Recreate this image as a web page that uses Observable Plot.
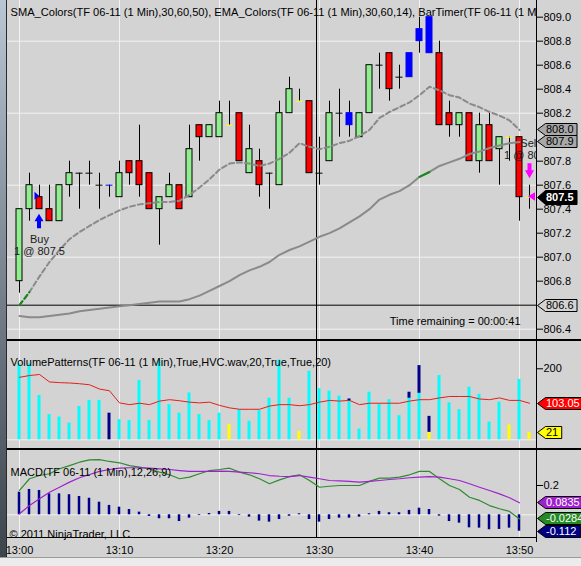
<!DOCTYPE html>
<html>
<head>
<meta charset="utf-8">
<script src="https://cdn.jsdelivr.net/npm/d3@7"></script>
<script src="https://cdn.jsdelivr.net/npm/@observablehq/plot@0.6"></script>
<style>
html, body { margin: 0; padding: 0; background: #d3d3d3; }
#chart { position: relative; width: 581px; height: 566px; overflow: hidden; background: #d3d3d3; }
.panel { position: absolute; left: 0; }
.deco { position: absolute; }
</style>
</head>
<body>
<div id="chart"></div>
<script>
// ---------- DATA ----------
// bars: minutes after 13:00
const open  = [806.8,807.4,807.5,807.4,807.3,807.6,807.7,807.7,807.6,807.6,807.5,807.8,807.8,807.7,807.4,807.5,807.6,807.5,808.1,808.0,808.0,808.1,808.2,807.7,807.8,807.7,807.6,808.2,808.3,808.3,807.7,807.8,808.2,808.2,808.0,808.2,808.6,808.7,808.5,808.5,808.8,809.0,808.7,808.2,808.1,808.2,807.8,808.1,807.9,808.0,808.0,807.5];
const high  = [807.4,807.7,807.6,807.6,807.6,807.8,807.7,807.8,807.7,807.6,807.8,807.8,808.1,807.7,807.5,807.7,807.6,808.1,808.1,808.1,808.3,808.3,808.2,808.1,807.9,807.7,808.3,808.5,808.4,808.3,808.0,808.3,808.4,808.3,808.2,808.6,808.7,808.7,808.6,808.7,809.0,809.0,808.8,808.3,808.2,808.2,808.2,808.2,808.0,808.0,808.0,807.6];
const low   = [806.7,807.3,807.4,807.3,807.3,807.5,807.4,807.6,807.4,807.5,807.5,807.6,807.5,807.4,807.1,807.5,807.4,807.5,807.8,808.0,808.0,808.1,807.8,807.7,807.5,807.4,807.6,808.2,808.3,807.7,807.6,807.8,808.0,808.0,808.0,808.2,808.4,808.3,808.4,808.5,808.7,808.7,808.1,808.0,808.0,807.8,807.7,807.8,807.6,807.8,807.3,807.4];
const close = [807.4,807.6,807.4,807.3,807.6,807.7,807.7,807.7,807.6,807.6,807.7,807.7,807.6,807.4,807.5,807.6,807.4,807.9,808.0,808.1,808.2,808.1,807.8,807.9,807.6,807.7,808.2,808.4,808.3,807.7,807.7,808.2,808.2,808.1,808.2,808.6,808.6,808.4,808.5,808.7,808.9,808.7,808.1,808.1,808.2,807.8,808.1,807.8,808.0,808.0,807.5,807.5];
const barPaint = ["","","","","","","","","","blue",
                  "","","","","","","","","","",
                  "","yellow","","","","","","","yellow","",
                  "","","","blue","","","","","","blue",
                  "blue","blue","","","","","","","","yellow",
                  "","yellow"];
const emaValues = [806.60,806.71,806.84,806.96,807.06,807.15,807.21,807.26,807.31,807.35,
                   807.39,807.42,807.44,807.45,807.46,807.46,807.47,807.52,807.58,807.65,
                   807.73,807.78,807.79,807.78,807.76,807.78,807.82,807.87,807.95,807.92,
                   807.90,807.92,807.95,807.97,808.01,808.06,808.16,808.21,808.25,808.29,
                   808.35,808.42,808.39,808.35,808.33,808.28,808.25,808.21,808.18,808.14,808.06];
const smaValues = [806.51,806.50,806.50,806.51,806.52,806.53,806.55,806.56,806.57,806.58,
                   806.59,806.60,806.61,806.62,806.63,806.63,806.63,806.65,806.68,806.72,
                   806.76,806.80,806.85,806.89,806.92,806.96,807.02,807.06,807.09,807.13,
                   807.17,807.20,807.24,807.29,807.34,807.40,807.48,807.52,807.55,807.60,
                   807.67,807.71,807.76,807.79,807.82,807.86,807.88,807.91,807.93,807.95,807.96];
const volume   = [214,214,125,71,64,47,94,111,111,75,57,54,167,54,223,99,75,132,71,54,75,43,85,52,82,117,225,117,24,193,144,137,123,109,30,134,101,113,68,117,131,21,181,104,85,148,128,50,106,42,170,21];
const volumeCap = {33: 115, 39: 134, 40: 209, 41: 66};
const volumeKind = {9: "navy", 21: "yellow", 28: "yellow", 41: "yellow", 49: "yellow", 51: "yellow"};
const volumeAvg = [176,181,184,163,161,160,158,155,143,138,104,99,103,99,109,113,110,106,104,106,
                   97,90,86,86,86,95,99,99,96,99,106,111,109,111,99,103,103,103,103,109,
                   113,113,118,122,122,122,115,113,118,111,111,103];
const macdValues   = [0.166,0.246,0.268,0.28,0.314,0.336,0.359,0.375,0.377,0.364,0.355,0.336,0.325,0.314,0.291,0.273,0.246,0.257,0.28,0.302,0.309,0.318,0.291,0.273,0.246,0.212,0.238,0.26,0.273,0.234,0.188,0.195,0.2,0.2,0.2,0.228,0.25,0.25,0.257,0.273,0.296,0.296,0.246,0.2,0.173,0.12,0.098,0.063,0.041,0.023,-0.028];
const signalValues = [0.007,0.063,0.109,0.154,0.188,0.223,0.253,0.275,0.296,0.309,0.318,0.321,0.321,0.318,0.314,0.309,0.302,0.296,0.296,0.297,0.298,0.296,0.291,0.287,0.28,0.268,0.263,0.261,0.268,0.257,0.246,0.234,0.232,0.228,0.223,0.228,0.234,0.241,0.246,0.253,0.257,0.261,0.257,0.246,0.234,0.212,0.188,0.166,0.143,0.116,0.082];
const histValues   = [0.154,0.173,0.166,0.143,0.143,0.137,0.125,0.113,0.086,0.064,0.052,0.036,0.018,-0.011,-0.027,-0.027,-0.046,-0.023,-0.005,0.009,0.023,0.023,-0.005,-0.016,-0.043,-0.05,-0.032,-0.01,0.007,-0.032,-0.05,-0.032,-0.023,-0.023,-0.016,0.007,0.023,0.014,0.014,0.03,0.045,0.036,-0.009,-0.046,-0.057,-0.089,-0.091,-0.102,-0.1,-0.091,-0.112];

const timeTicks  = [0, 10, 20, 30, 40, 50];
const timeLabels = ["13:00", "13:10", "13:20", "13:30", "13:40", "13:50"];
const priceTicks = [809.0, 808.8, 808.6, 808.4, 808.2, 807.8, 807.6, 807.4, 807.2, 807.0, 806.8, 806.4];
const priceGrid  = [808.8, 808.2, 807.6, 807.0, 806.4];
const volumeTicks = [200];
const macdTicks   = [0.2];
const hLinePrice = 806.6;
const cursorTime = 29.7;
const buyExec  = {i: 2,  price: 807.5, label: "Buy",  qty: "1 @ 807.5"};
const sellExec = {i: 51, price: 807.5, label: "Sell", qty: "1 @ 807.5"};
const priceFlagValues = [808.06, 807.96, 807.5, 806.6];
const priceFlagLabels = ["808.0", "807.9", "807.5", "806.6"];
const volumeFlagValues = [103.05, 21];
const volumeFlagLabels = ["103.05", "21"];
const macdFlagValues = [0.0835, -0.0284, -0.112];
const macdFlagLabels = ["0.0835", "-0.0284", "-0.112"];
const headerText = "SMA_Colors(TF 06-11 (1 Min),30,60,50), EMA_Colors(TF 06-11 (1 Min),30,60,14), BarTimer(TF 06-11 (1 Min))";
const timerText = "Time remaining = 00:00:41";
const volumeTitle = "VolumePatterns(TF 06-11 (1 Min),True,HVC.wav,20,True,True,20)";
const macdTitle = "MACD(TF 06-11 (1 Min),12,26,9)";
const copyrightText = "\u00A9 2011 NinjaTrader, LLC";

// ---------- STYLE ----------
const FONT = "'Liberation Sans', Arial, sans-serif";
const BG = "#d3d3d3", GRID = "#f2f2f2", GRAY = "#8a8a8a", GREEN = "#138a13";
const UP = "#90ee90", DOWN = "#ff0000", BLUE = "#0000ff", YELLOW = "#ffff00", NAVY = "#00008b";
const CYAN = "#00ffff", MAGENTA = "#ff00ff", PURPLE = "#a020d0", MGREEN = "#2e8b2e";
const W = 581, xDomain = [-1.2, 51.7];

const candles = open.map((o, i) => ({i, open: o, high: high[i], low: low[i], close: close[i], paint: barPaint[i]}));
const bodies = candles.filter(d => d.open !== d.close);
const dojis = candles.filter(d => d.open === d.close);
const emaPts = emaValues.map((v, i) => ({i, v}));
const smaPts = smaValues.map((v, i) => ({i, v}));
const volData = volume.map((v, i) => ({i, v, cap: volumeCap[i], kind: volumeKind[i] || "cyan"}));
const volAvgPts = volumeAvg.map((v, i) => ({i, v}));
const macdPts = macdValues.map((v, i) => ({i, v}));
const signalPts = signalValues.map((v, i) => ({i, v}));
const histPts = histValues.map((v, i) => ({i, v}));

function textW(s, size) {
  let w = 0;
  for (const c of s) w += c === "." ? 0.278 : c === "-" ? 0.333 : 0.556;
  return w * size;
}

function flagMark(values, labels, fills, inks, bold) {
  return (index, scales, channels, dims) => {
    const x0 = dims.width - dims.marginRight;
    const g = d3.create("svg:g").attr("font-family", FONT).attr("font-size", 11).attr("text-anchor", "start");
    values.forEach((v, k) => {
      const y = Math.round(scales.y(v)) + 0.5;
      const h = bold && bold[k] ? 14 : 12;
      const w = textW(labels[k], 11) + 4;
      const tip = x0 + 1.5, b = x0 + 9.5;
      g.append("path")
        .attr("d", `M${tip},${y}L${b},${y - h / 2}H${b + w}V${y + h / 2}H${b}Z`)
        .attr("fill", fills[k]).attr("stroke", "#000").attr("stroke-width", 1);
      g.append("text").attr("x", b + 0.5).attr("y", y).attr("dy", "0.36em")
        .attr("text-anchor", "start")
        .attr("fill", inks[k]).attr("font-weight", bold && bold[k] ? "bold" : null)
        .text(labels[k]);
    });
    return g.node();
  };
}

function execMarks(buy, sell) {
  return (index, scales) => {
    const g = d3.create("svg:g");
    const bx = scales.x(buy.i), by = scales.y(buy.price);
    g.append("path").attr("fill", BLUE)
      .attr("d", `M${bx},${by + 17}L${bx + 4.5},${by + 24.5}H${bx + 2}V${by + 31.5}H${bx - 2}V${by + 24.5}H${bx - 4.5}Z`);
    g.append("path").attr("fill", BLUE)
      .attr("d", `M${bx - 4.5},${by - 5}L${bx},${by - 1}L${bx - 4.5},${by + 3}Z`);
    const sx = scales.x(sell.i) + 0.5, sy = scales.y(sell.price);
    g.append("path").attr("fill", MAGENTA)
      .attr("d", `M${sx},${sy - 18.5}L${sx + 4.5},${sy - 26.5}H${sx + 2}V${sy - 33.5}H${sx - 2}V${sy - 26.5}H${sx - 4.5}Z`);
    g.append("path").attr("fill", MAGENTA)
      .attr("d", `M${sx - 1.5},${sy - 0.5}L${sx + 5.5},${sy - 4.5}L${sx + 5.5},${sy + 4}Z`);
    return g.node();
  };
}

const baseStyle = {background: "transparent", fontFamily: FONT, fontSize: "11px", color: "black", overflow: "visible"};

// ---------- PRICE PANEL ----------
const price = Plot.plot({
  width: W, height: 339, marginLeft: 7, marginRight: 45, marginTop: 0, marginBottom: 0,
  style: baseStyle,
  x: {domain: xDomain, axis: null},
  y: {domain: [806.314, 809.139], axis: "right", ticks: priceTicks, tickFormat: d => d.toFixed(1), tickSize: 6, tickPadding: 1, label: null},
  color: {type: "identity"},
  marks: [
    Plot.ruleY(priceGrid, {stroke: GRID}),
    Plot.ruleX(timeTicks, {stroke: GRID}),
    Plot.ruleY([hLinePrice], {stroke: "black"}),
    Plot.ruleX([cursorTime], {stroke: "black"}),
    Plot.ruleX(candles, {x: "i", y1: "low", y2: "high", stroke: "black"}),
    Plot.rect(bodies, {x1: d => d.i - 0.3, x2: d => d.i + 0.3, y1: "open", y2: "close",
      fill: d => d.paint === "blue" ? BLUE : d.close > d.open ? UP : DOWN,
      stroke: d => d.paint === "blue" ? BLUE : "black", inset: 0}),
    Plot.ruleY(dojis, {y: "open", x1: d => d.i - 0.35, x2: d => d.i + 0.35,
      stroke: d => d.paint === "blue" ? BLUE : d.paint === "yellow" ? YELLOW : "black"}),
    Plot.line(smaPts, {x: "i", y: "v", stroke: GRAY, strokeWidth: 2}),
    Plot.line(smaPts.slice(40, 42), {x: "i", y: "v", stroke: GREEN, strokeWidth: 2}),
    Plot.line(emaPts, {x: "i", y: "v", stroke: GRAY, strokeWidth: 2, strokeDasharray: "5,3"}),
    Plot.line(emaPts.slice(0, 2), {x: "i", y: "v", stroke: GREEN, strokeWidth: 2, strokeDasharray: "5,3"}),
    execMarks(buyExec, sellExec),
    Plot.text([buyExec], {x: "i", y: "price", text: d => d.label, dy: 42.5, fontSize: 11, fill: "#1a1a1a"}),
    Plot.text([buyExec], {x: "i", y: "price", text: d => d.qty, dy: 54.5, fontSize: 11, fill: "#1a1a1a"}),
    Plot.text([sellExec], {x: "i", y: "price", text: d => d.label, dy: -53.7, fontSize: 11, fill: "#1a1a1a", clip: true}),
    Plot.text([sellExec], {x: "i", y: "price", text: d => d.qty, dy: -42, fontSize: 11, fill: "#1a1a1a", clip: true}),
    Plot.text([headerText], {frameAnchor: "top-left", text: d => d, textAnchor: "start", dx: 3, dy: 7.5, fontSize: 11.1, fill: "black", clip: true}),
    Plot.text([timerText], {frameAnchor: "bottom-right", text: d => d, textAnchor: "end", dx: -16, dy: -15, fontSize: 11, fill: "black"}),
    flagMark(priceFlagValues, priceFlagLabels, ["#a8a8a8", "#a8a8a8", "#000000", BG], ["#000", "#000", "#fff", "#000"], [false, false, true, false])
  ]
});

// ---------- VOLUME PANEL ----------
const VCOL = {cyan: CYAN, navy: NAVY, yellow: YELLOW};
const vol = Plot.plot({
  width: W, height: 108, marginLeft: 7, marginRight: 45, marginTop: 0, marginBottom: 0,
  style: baseStyle,
  x: {domain: xDomain, axis: null},
  y: {domain: [-24.5, 279.7], axis: "right", ticks: volumeTicks, tickSize: 6, tickPadding: 1, label: null},
  color: {type: "identity"},
  marks: [
    Plot.ruleX(timeTicks, {stroke: GRID}),
    Plot.ruleY([0], {stroke: GRID}),
    Plot.ruleX([cursorTime], {stroke: "black"}),
    Plot.rect(volData, {x1: d => d.i - 0.15, x2: d => d.i + 0.15, y1: 0, y2: "v", fill: d => VCOL[d.kind], inset: 0}),
    Plot.rect(volData.filter(d => d.cap != null), {x1: d => d.i - 0.15, x2: d => d.i + 0.15, y1: "v", y2: "cap", fill: NAVY, inset: 0}),
    Plot.line(volAvgPts, {x: "i", y: "v", stroke: "#e0201a", strokeWidth: 1}),
    Plot.text([volumeTitle], {frameAnchor: "top-left", text: d => d, textAnchor: "start", dx: 3, dy: 17.5, fontSize: 11, fill: "black", clip: true}),
    flagMark(volumeFlagValues, volumeFlagLabels, ["#ff0000", YELLOW], ["#fff", "#000"])
  ]
});

// ---------- MACD PANEL ----------
const macd = Plot.plot({
  width: W, height: 109, marginLeft: 7, marginRight: 45, marginTop: 0, marginBottom: 21,
  style: baseStyle,
  x: {domain: xDomain, ticks: timeTicks, tickFormat: d => timeLabels[timeTicks.indexOf(d)], tickSize: 0, tickPadding: 9, label: null},
  y: {domain: [-0.155, 0.4457], axis: "right", ticks: macdTicks, tickFormat: d => d.toFixed(1), tickSize: 6, tickPadding: 1, label: null},
  color: {type: "identity"},
  marks: [
    Plot.ruleX(timeTicks, {stroke: GRID}),
    Plot.ruleY([0], {stroke: GRID}),
    Plot.ruleX([cursorTime], {stroke: "black"}),
    Plot.rect(histPts, {x1: d => d.i - 0.125, x2: d => d.i + 0.125, y1: 0, y2: "v", fill: NAVY, inset: 0}),
    Plot.line(macdPts, {x: "i", y: "v", stroke: MGREEN, strokeWidth: 1.2}),
    Plot.line(signalPts, {x: "i", y: "v", stroke: PURPLE, strokeWidth: 1.2}),
    Plot.text([macdTitle], {frameAnchor: "top-left", text: d => d, textAnchor: "start", dx: 3, dy: 18.7, fontSize: 11, fill: "black", clip: true}),
    Plot.text([copyrightText], {frameAnchor: "top-left", text: d => d, textAnchor: "start", dx: 2, dy: 81, fontSize: 11, fill: "black"}),
    flagMark(macdFlagValues, macdFlagLabels, [PURPLE, "#228b22", "#000080"], ["#fff", "#fff", "#fff"])
  ]
});

// ---------- LAYOUT ----------
const chart = document.getElementById("chart");
function place(node, top) {
  const d = document.createElement("div");
  d.className = "panel"; d.style.top = top + "px";
  d.appendChild(node); chart.appendChild(d);
}
function deco(left, top, w, h, bg) {
  const d = document.createElement("div");
  d.className = "deco";
  Object.assign(d.style, {left: left + "px", top: top + "px", width: w + "px", height: h + "px", background: bg});
  chart.appendChild(d);
}
place(price, 0);
place(vol, 340);
place(macd, 449);
deco(0, 339, 581, 2, "#000");
deco(0, 448, 581, 2, "#000");
deco(7, 537, 529, 1, "#000");
deco(536, 0, 1, 542, "#000");
deco(0, 0, 6, 566, "linear-gradient(#b9c6d3, #7d8995 45%, #3a424a)");
deco(6, 0, 1, 566, "#2a2a2a");
deco(0, 557, 581, 9, "#ececec");
deco(0, 557, 581, 1, "#9a9a9a");
</script>
</body>
</html>
